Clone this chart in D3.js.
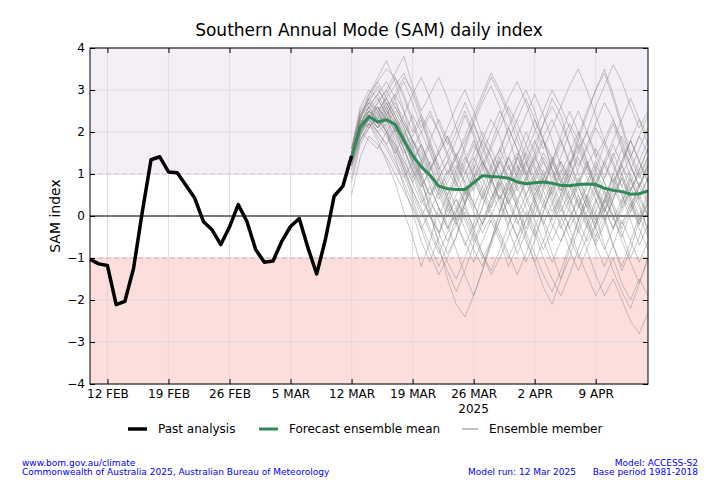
<!DOCTYPE html>
<html>
<head>
<meta charset="utf-8">
<script src="https://cdn.jsdelivr.net/npm/d3@7"></script>
<style>
  body { margin: 0; background: #fff; }
  svg { font-family: "DejaVu Sans", sans-serif; }
</style>
</head>
<body>
<script>
//Data
var pastStart = "2025-02-10";
var pastValues = [-1.03, -1.14, -1.18, -2.11, -2.03, -1.24, 0.1, 1.34, 1.41, 1.05, 1.03, 0.73, 0.43, -0.13, -0.33,
  -0.68, -0.26, 0.27, -0.13, -0.8, -1.1, -1.07, -0.6, -0.25, -0.06, -0.76, -1.38, -0.56, 0.47, 0.71, 1.43];

var forecastStart = "2025-03-12";
var meanValues = [1.40, 2.12, 2.37, 2.24, 2.29, 2.18, 1.80, 1.44, 1.17, 0.97, 0.71, 0.65, 0.63, 0.63, 0.79, 0.96, 0.94,
  0.93, 0.90, 0.81, 0.77, 0.79, 0.81, 0.78, 0.73, 0.72, 0.75, 0.76, 0.75, 0.66, 0.61, 0.58, 0.52, 0.53, 0.60];

var members = [
  [1.4,2.2,2.6,2.9,3.2,2.8,2.1,1.5,0.8,0.2,-0.4,-0.9,-0.5,0.3,1.1,1.8,2.3,1.9,1.2,0.6,0.9,1.5,2.2,2.8,2.4,1.7,1.0,0.4,-0.2,0.3,1.0,1.6,1.2,0.7,1.1],
  [1.3,2.0,2.4,2.1,2.5,2.9,3.3,3.0,2.4,1.8,1.2,0.7,0.2,-0.3,-0.8,-1.2,-0.6,0.1,0.8,1.4,1.0,0.4,-0.2,-0.9,-1.5,-1.0,-0.3,0.4,1.1,1.7,2.2,1.6,0.9,0.3,-0.4],
  [1.5,2.4,2.8,2.5,2.0,1.4,0.7,0.1,-0.6,-1.1,-0.5,0.3,1.0,1.6,2.2,2.7,3.1,2.6,1.9,1.2,0.5,0.0,0.6,1.3,1.9,2.5,2.0,1.3,0.6,0.0,-0.7,-1.3,-0.8,-0.1,0.5],
  [1.2,1.9,2.3,2.7,3.0,3.4,3.8,3.1,2.5,2.9,3.3,2.8,2.1,1.5,0.9,0.4,0.9,1.5,2.1,2.6,3.0,2.5,1.8,1.1,0.6,1.2,1.9,2.5,3.0,3.4,2.8,2.1,1.4,1.9,2.4],
  [1.4,2.1,2.2,1.8,1.3,0.8,0.1,-0.5,-1.2,-0.6,0.2,-0.2,-0.8,-1.4,-1.9,-1.3,-0.6,0.1,0.7,0.2,-0.5,-1.1,-1.7,-2.1,-1.5,-0.8,-0.1,0.5,0.0,-0.7,-1.3,-1.8,-2.2,-1.6,-1.0],
  [1.6,2.5,2.7,3.1,2.6,2.2,1.7,1.9,2.3,1.6,0.9,1.3,1.8,2.4,1.9,1.2,0.6,0.1,0.7,1.4,2.0,1.5,0.8,0.3,-0.3,0.2,0.8,1.3,0.7,0.1,0.6,1.2,1.8,2.3,1.9],
  [1.3,2.2,2.5,2.3,2.6,2.0,1.4,0.8,1.2,1.7,1.1,0.5,-0.1,-0.7,-0.2,0.5,1.1,0.6,0.0,-0.5,-1.1,-0.6,0.1,0.7,1.3,0.9,0.3,-0.3,0.3,0.9,1.5,1.0,0.4,-0.2,0.3],
  [1.5,2.3,2.9,3.3,3.7,3.2,2.5,1.7,0.9,0.1,-0.7,-1.5,-2.1,-2.4,-1.9,-1.3,-0.7,-0.1,0.5,1.1,1.7,2.3,1.8,1.1,0.5,1.1,1.8,2.4,3.0,3.5,2.9,2.2,1.5,1.0,1.4],
  [1.4,2.0,1.8,1.6,2.0,2.3,1.9,1.3,0.7,1.1,1.6,2.1,2.6,3.0,2.5,1.9,1.4,0.9,0.4,0.9,1.3,0.7,0.2,0.6,1.1,0.5,-0.1,-0.6,-0.2,0.4,0.0,-0.5,0.1,0.7,1.2],
  [0.8,1.7,2.1,2.4,2.0,1.5,1.0,0.4,-0.2,-0.7,-1.2,-0.7,0.0,0.6,1.2,0.7,0.2,0.8,1.4,1.9,2.4,2.9,2.4,1.8,1.2,0.7,0.2,0.8,1.3,0.8,0.2,-0.4,-1.0,-0.5,0.2],
  [1.5,2.4,2.6,2.2,2.4,2.7,2.3,1.8,1.5,1.0,0.6,1.0,1.5,1.1,0.6,1.2,1.7,2.3,2.8,3.2,2.7,2.1,1.6,2.1,2.6,3.1,3.5,3.0,2.4,1.8,1.3,0.7,0.2,0.7,1.3],
  [1.3,2.1,2.3,2.0,1.7,2.1,1.6,1.0,0.4,0.0,-0.4,0.2,0.8,0.3,-0.3,0.2,0.8,1.4,0.9,0.3,-0.3,0.3,0.9,0.4,-0.2,-0.8,-1.3,-0.8,-0.2,0.4,1.0,0.5,-0.1,-0.7,-0.2],
  [1.6,2.6,3.0,2.8,2.4,2.8,3.2,2.7,2.1,2.5,2.0,1.4,0.8,1.3,1.8,1.3,0.8,0.3,-0.3,-0.9,-0.4,0.2,0.7,1.3,1.8,1.3,0.7,0.2,0.7,1.3,0.8,0.3,0.8,1.3,1.8],
  [0.9,1.8,2.2,2.6,2.2,1.7,1.1,0.5,0.0,0.4,0.9,0.4,-0.1,0.3,0.8,1.3,0.9,0.4,-0.2,0.3,0.9,1.4,1.0,0.5,1.0,1.5,2.0,1.6,1.1,0.6,0.0,-0.6,-1.1,-1.6,-1.0],
  [1.4,2.3,2.7,2.4,2.9,3.3,2.9,2.3,1.7,1.1,1.5,1.9,1.4,0.8,0.3,-0.2,0.2,0.7,1.2,0.7,0.2,-0.3,-0.8,-0.3,0.3,0.9,1.4,0.9,0.4,-0.1,0.4,1.0,0.5,0.0,0.6],
  [1.3,2.0,2.4,2.2,1.9,1.5,1.9,2.4,2.0,1.5,1.0,0.5,0.9,1.4,1.0,0.5,0.0,-0.5,-1.0,-0.5,0.1,-0.4,-1.0,-1.5,-1.9,-1.4,-0.8,-0.2,0.4,-0.1,-0.7,-1.2,-0.6,0.0,-0.5],
  [1.5,2.2,2.5,2.8,2.4,2.0,2.4,2.9,3.3,2.8,2.2,1.7,2.2,2.7,2.2,1.6,1.1,1.6,2.1,1.6,1.0,1.4,1.9,2.3,1.8,1.2,1.6,2.0,1.5,0.9,1.4,1.9,1.4,0.9,1.4],
  [1.4,2.1,2.3,2.5,2.1,1.6,1.1,0.6,0.2,-0.3,-0.8,-1.3,-1.8,-1.3,-0.7,-0.2,0.4,0.9,0.5,1.0,1.5,1.1,0.6,0.1,0.5,1.0,0.5,-0.1,-0.7,-0.2,0.4,0.9,0.3,-0.3,-0.8],
  [1.2,1.9,2.5,2.3,2.7,2.3,1.8,1.3,1.7,1.2,0.7,0.2,-0.2,0.3,0.9,1.5,2.0,2.5,2.1,1.6,1.1,0.6,1.1,0.6,0.1,0.6,1.1,1.7,2.2,2.7,2.3,1.7,1.2,0.7,0.3],
  [1.5,2.4,2.8,3.0,2.7,2.3,1.9,1.4,0.9,1.3,0.8,0.3,-0.2,-0.6,-1.1,-0.6,-0.1,-0.6,-1.2,-0.7,-0.1,0.5,1.0,0.5,0.0,-0.5,-1.0,-0.5,0.1,0.6,0.2,-0.3,0.2,0.8,0.4],
  [1.3,2.1,2.4,2.1,2.3,1.9,1.5,1.8,1.3,0.8,0.4,0.8,1.2,0.8,1.3,1.8,1.4,0.9,1.4,1.0,0.5,0.9,1.4,1.0,0.6,1.1,0.7,1.2,1.6,1.2,0.8,1.2,0.8,0.4,0.9],
  [1.6,2.3,2.1,2.5,2.8,2.4,1.9,1.3,0.8,0.3,0.0,0.5,1.1,1.7,2.3,2.8,3.3,2.9,2.4,1.8,1.3,0.8,0.3,-0.2,-0.6,-0.1,0.5,0.0,-0.5,0.1,0.7,1.3,1.8,1.3,0.8],
  [1.4,2.0,2.3,2.0,2.2,2.5,2.1,1.6,1.0,0.4,-0.1,-0.6,-0.2,0.2,-0.3,-0.9,-1.4,-1.0,-0.5,0.0,0.5,1.0,1.5,1.1,0.7,0.2,-0.3,-0.8,-1.4,-1.9,-1.5,-2.0,-2.5,-2.8,-2.3],
  [1.3,2.2,2.6,2.3,2.0,1.7,1.3,0.9,1.3,1.8,2.3,1.8,1.3,0.7,0.2,0.7,1.2,0.7,0.3,0.8,1.3,1.8,1.3,0.9,1.4,2.0,2.5,2.0,1.4,1.8,2.3,1.8,1.2,0.7,1.2],
  [1.5,2.1,2.4,2.7,3.0,2.6,2.2,1.8,1.4,0.9,0.5,0.0,0.4,0.0,-0.5,-1.0,-0.6,-0.1,0.4,-0.1,-0.6,-1.1,-0.6,0.0,0.5,0.1,-0.4,0.1,0.6,0.2,-0.3,0.3,0.9,0.4,0.0],
  [0.5,1.4,1.9,1.7,1.4,1.0,0.6,0.2,-0.3,0.1,0.6,1.1,0.7,1.2,1.7,1.3,0.8,1.3,0.9,0.4,0.8,0.3,-0.2,0.3,0.8,1.3,0.8,1.2,0.7,0.2,-0.3,0.1,0.6,1.1,1.6],
  [1.5,2.3,2.5,2.2,2.6,2.9,2.5,2.0,2.4,2.0,1.5,1.9,1.4,1.0,1.4,0.9,0.4,0.8,0.3,0.7,1.2,1.7,2.2,2.6,2.2,1.7,1.2,1.6,2.1,1.7,1.2,0.7,1.1,1.6,2.1],
  [1.3,2.0,2.3,2.6,2.3,1.8,1.2,0.6,0.1,-0.4,-0.9,-0.4,0.1,0.6,0.1,-0.4,0.0,0.5,0.0,-0.5,-0.1,0.4,0.9,1.4,0.9,0.4,0.8,0.3,-0.3,-0.8,-0.3,0.2,0.7,0.2,-0.3],
  [1.4,2.2,2.4,2.1,2.4,2.0,1.6,1.1,0.7,1.1,1.5,1.0,1.4,1.8,2.2,1.7,1.2,1.6,1.1,1.5,1.0,0.5,0.9,1.3,0.8,0.3,0.7,0.2,-0.3,0.2,0.7,0.2,0.6,1.0,0.5],
  [1.2,1.8,2.1,2.4,2.7,2.3,1.9,1.5,1.0,0.5,0.9,0.4,-0.1,0.4,0.9,0.4,0.9,0.4,0.9,1.4,0.9,0.4,-0.1,-0.6,-0.1,0.4,0.9,0.4,-0.1,0.4,0.9,0.5,0.1,0.5,0.9],
  [1.4,2.3,2.8,3.2,3.5,3.3,2.8,2.2,1.6,1.0,0.5,0.9,1.4,1.9,2.4,2.9,3.4,3.0,2.5,2.0,1.4,0.9,0.4,-0.1,0.4,0.9,1.5,2.0,2.6,3.1,3.6,3.2,2.6,2.1,2.5],
  [1.3,2.0,2.2,1.9,1.6,1.2,0.8,0.3,-0.3,-0.9,-1.4,-1.0,-0.5,0.1,-0.4,-0.9,-1.3,-0.8,-0.2,0.4,0.0,-0.5,0.1,0.7,0.2,-0.3,-0.9,-1.4,-1.9,-1.5,-1.0,-1.6,-2.0,-1.5,-1.9],
  [1.5,2.4,2.7,2.5,2.8,2.4,2.0,1.6,2.0,2.4,2.0,1.5,1.0,0.5,0.9,1.3,0.9,0.4,0.8,1.2,0.8,1.3,1.8,1.4,0.9,0.4,-0.1,0.3,0.8,1.3,1.8,2.3,2.8,2.3,1.7],
  [1.2,1.9,2.4,2.2,2.5,2.2,1.8,1.2,0.6,0.0,-0.6,-1.1,-1.5,-1.0,-0.4,0.2,0.8,1.3,0.8,0.2,-0.4,-0.9,-1.4,-1.8,-1.3,-0.7,-0.1,0.5,1.0,0.5,-0.1,0.4,1.0,0.5,0.0],
  [1.6,2.5,2.9,3.2,2.8,3.1,3.4,2.9,2.3,1.7,1.1,1.5,2.0,2.5,2.0,1.4,0.9,1.3,1.8,2.3,2.8,2.3,1.8,1.3,0.8,1.2,1.7,1.2,0.7,1.2,1.7,1.2,0.6,1.1,1.6],
  [1.4,2.1,2.5,2.3,2.0,1.6,1.2,0.8,0.3,0.7,0.2,-0.3,0.1,0.5,1.0,0.6,0.1,-0.4,-0.9,-1.4,-0.9,-0.3,0.3,0.8,1.3,0.8,0.3,-0.2,-0.7,-1.2,-0.7,-0.1,-0.6,-1.1,-0.6],
  [1.3,2.2,2.6,2.9,2.5,2.1,1.7,1.3,0.9,0.5,0.9,1.3,0.8,0.3,0.7,1.1,1.6,2.1,2.6,2.2,1.7,1.2,0.7,1.2,1.7,2.2,1.8,1.3,0.8,0.3,0.8,1.3,1.8,1.3,0.8],
  [1.5,2.2,2.4,2.6,2.3,2.6,2.2,1.8,1.3,0.7,0.2,-0.3,0.2,0.7,0.3,-0.2,0.3,0.8,0.3,-0.2,0.3,0.8,1.3,0.8,0.3,-0.3,0.2,0.7,1.2,0.8,0.3,-0.2,0.3,-0.2,0.4],
  [1.1,1.8,2.2,2.0,1.7,1.3,0.9,1.3,1.7,1.2,0.6,0.1,0.5,1.0,1.5,2.0,1.6,1.1,0.6,1.0,1.5,2.0,2.5,3.0,2.6,2.1,1.6,1.1,0.6,0.1,0.5,1.0,1.4,1.9,1.5],
  [1.4,2.1,2.3,2.1,2.4,2.1,1.6,1.1,0.5,0.0,-0.4,0.0,0.4,-0.1,-0.6,-0.1,0.4,0.9,1.4,0.9,0.4,-0.1,-0.6,-1.1,-0.6,-0.1,0.4,-0.1,-0.6,-0.1,0.4,0.9,0.4,-0.1,0.3]
];

var tickDates = ["2025-02-12", "2025-02-19", "2025-02-26", "2025-03-05", "2025-03-12", "2025-03-19", "2025-03-26", "2025-04-02", "2025-04-09"];
var tickLabels = ["12 FEB", "19 FEB", "26 FEB", "5 MAR", "12 MAR", "19 MAR", "26 MAR", "2 APR", "9 APR"];
var yTicks = [-4, -3, -2, -1, 0, 1, 2, 3, 4];
var xDomain = ["2025-02-10", "2025-04-15"];

var legendLabels = ["Past analysis", "Forecast ensemble mean", "Ensemble member"];
var footerLeft = ["www.bom.gov.au/climate", "Commonwealth of Australia 2025, Australian Bureau of Meteorology"];
var footerRight = ["Model: ACCESS-S2", "Base period 1981-2018"];
var footerRun = "Model run: 12 Mar 2025";

//Config
var width = 720, height = 480;
var margin = {left: 90, top: 48, right: 72, bottom: 96};
var pastColor = "black", meanColor = "#2e8b57", memberColor = "#858585";
var parse = d3.utcParse("%Y-%m-%d");

var svg = d3.select("body").append("svg")
    .attr("width", width)
    .attr("height", height);

var x = d3.scaleUtc()
    .domain(xDomain.map(parse))
    .range([margin.left, width - margin.right]);

var y = d3.scaleLinear()
    .domain([-4, 4])
    .range([height - margin.bottom, margin.top]);

var dayAt = function(start, i) { return d3.utcDay.offset(parse(start), i); };

//background bands
svg.append("rect")
    .attr("x", x.range()[0]).attr("width", x.range()[1] - x.range()[0])
    .attr("y", y(4)).attr("height", y(1) - y(4))
    .attr("fill", "#f4eef6");
svg.append("rect")
    .attr("x", x.range()[0]).attr("width", x.range()[1] - x.range()[0])
    .attr("y", y(-1)).attr("height", y(-4) - y(-1))
    .attr("fill", "#fcdedd");

//grid
svg.append("g").selectAll("line")
    .data(tickDates.map(parse))
    .enter().append("line")
    .attr("x1", function(d) { return x(d); }).attr("x2", function(d) { return x(d); })
    .attr("y1", y(4)).attr("y2", y(-4))
    .attr("stroke", "#dcd8dc").attr("stroke-width", 0.8);
svg.append("g").selectAll("line")
    .data(yTicks)
    .enter().append("line")
    .attr("x1", x.range()[0]).attr("x2", x.range()[1])
    .attr("y1", function(d) { return y(d); }).attr("y2", function(d) { return y(d); })
    .attr("stroke", "#dcd8dc").attr("stroke-width", 0.8);

//threshold lines
svg.append("line")
    .attr("x1", x.range()[0]).attr("x2", x.range()[1])
    .attr("y1", y(1)).attr("y2", y(1))
    .attr("stroke", "#d2c0d6").attr("stroke-dasharray", "5,3");
svg.append("line")
    .attr("x1", x.range()[0]).attr("x2", x.range()[1])
    .attr("y1", y(-1)).attr("y2", y(-1))
    .attr("stroke", "#e2a8b2").attr("stroke-dasharray", "5,3");
svg.append("line")
    .attr("x1", x.range()[0]).attr("x2", x.range()[1])
    .attr("y1", y(0)).attr("y2", y(0))
    .attr("stroke", "black").attr("stroke-width", 1);

//ensemble members
var memberLine = d3.line()
    .x(function(d, i) { return x(dayAt(forecastStart, i)); })
    .y(function(d) { return y(d); });

svg.append("g").selectAll("path")
    .data(members)
    .enter().append("path")
    .attr("d", memberLine)
    .attr("fill", "none")
    .attr("stroke", memberColor)
    .attr("stroke-opacity", 0.45)
    .attr("stroke-width", 1);

//ensemble mean
svg.append("path")
    .datum(meanValues)
    .attr("d", memberLine)
    .attr("fill", "none")
    .attr("stroke", meanColor)
    .attr("stroke-width", 3)
    .attr("stroke-linejoin", "round");

//past analysis
var pastLine = d3.line()
    .x(function(d, i) { return x(dayAt(pastStart, i)); })
    .y(function(d) { return y(d); });

svg.append("path")
    .datum(pastValues)
    .attr("d", pastLine)
    .attr("fill", "none")
    .attr("stroke", pastColor)
    .attr("stroke-width", 3.5)
    .attr("stroke-linejoin", "round");

//axes: ticks point inward on all four sides
var xBottom = d3.axisBottom(x)
    .tickValues(tickDates.map(parse))
    .tickFormat(function(d, i) { return tickLabels[i]; })
    .tickSizeInner(-5).tickSizeOuter(0).tickPadding(5);
var xTop = d3.axisTop(x)
    .tickValues(tickDates.map(parse))
    .tickFormat("").tickSizeInner(-5).tickSizeOuter(0);
var yLeft = d3.axisLeft(y)
    .tickValues(yTicks)
    .tickFormat(function(d) { return d < 0 ? "\u2212" + Math.abs(d) : d; })
    .tickSizeInner(-5).tickSizeOuter(0).tickPadding(5);
var yRight = d3.axisRight(y)
    .tickValues(yTicks)
    .tickFormat("").tickSizeInner(-5).tickSizeOuter(0);

function styleAxis(g) {
    g.select(".domain").remove();
    g.selectAll(".tick line").attr("stroke", "black");
    g.selectAll("text").attr("font-size", 12).attr("fill", "black")
        .attr("font-family", "DejaVu Sans, sans-serif");
}

svg.append("g").attr("transform", "translate(0," + y(-4) + ")").call(xBottom).call(styleAxis);
svg.append("g").attr("transform", "translate(0," + y(4) + ")").call(xTop).call(styleAxis);
svg.append("g").attr("transform", "translate(" + x.range()[0] + ",0)").call(yLeft).call(styleAxis);
svg.append("g").attr("transform", "translate(" + x.range()[1] + ",0)").call(yRight).call(styleAxis);

//plot frame
svg.append("rect")
    .attr("x", x.range()[0]).attr("y", y(4))
    .attr("width", x.range()[1] - x.range()[0]).attr("height", y(-4) - y(4))
    .attr("fill", "none").attr("stroke", "black").attr("stroke-width", 1);

//year under 26 MAR
svg.append("text")
    .attr("x", x(parse("2025-03-26"))).attr("y", 413)
    .attr("text-anchor", "middle").attr("font-size", 12)
    .text("2025");

//title and axis label
svg.append("text")
    .attr("x", 369).attr("y", 36)
    .attr("text-anchor", "middle").attr("font-size", 17)
    .text("Southern Annual Mode (SAM) daily index");

svg.append("text")
    .attr("transform", "translate(60," + y(0) + ") rotate(-90)")
    .attr("text-anchor", "middle").attr("font-size", 14)
    .text("SAM index");

//legend
var legendX = [128, 259, 462];
var legendStroke = [pastColor, meanColor, memberColor];
var legendWidth = [3.5, 3, 1];
var legendLen = [19, 19, 16];
var legend = svg.append("g").selectAll("g")
    .data(legendLabels)
    .enter().append("g")
    .attr("transform", function(d, i) { return "translate(" + legendX[i] + ",429)"; });
legend.append("line")
    .attr("x1", 0).attr("x2", function(d, i) { return legendLen[i]; })
    .attr("stroke", function(d, i) { return legendStroke[i]; })
    .attr("stroke-width", function(d, i) { return legendWidth[i]; });
legend.append("text")
    .attr("x", function(d, i) { return legendLen[i] + 11; })
    .attr("dy", "0.35em")
    .attr("font-size", 12)
    .text(function(d) { return d; });

//footer
svg.append("g").selectAll("text")
    .data(footerLeft)
    .enter().append("text")
    .attr("x", 22).attr("y", function(d, i) { return 466 + i * 9.3; })
    .attr("font-size", 9).attr("fill", "blue")
    .text(function(d) { return d; });
svg.append("g").selectAll("text")
    .data(footerRight)
    .enter().append("text")
    .attr("x", 698).attr("y", function(d, i) { return 466 + i * 9.3; })
    .attr("text-anchor", "end")
    .attr("font-size", 9).attr("fill", "blue")
    .text(function(d) { return d; });
svg.append("text")
    .attr("x", 576).attr("y", 475.3)
    .attr("text-anchor", "end")
    .attr("font-size", 9).attr("fill", "blue")
    .text(footerRun);
</script>
</body>
</html>
